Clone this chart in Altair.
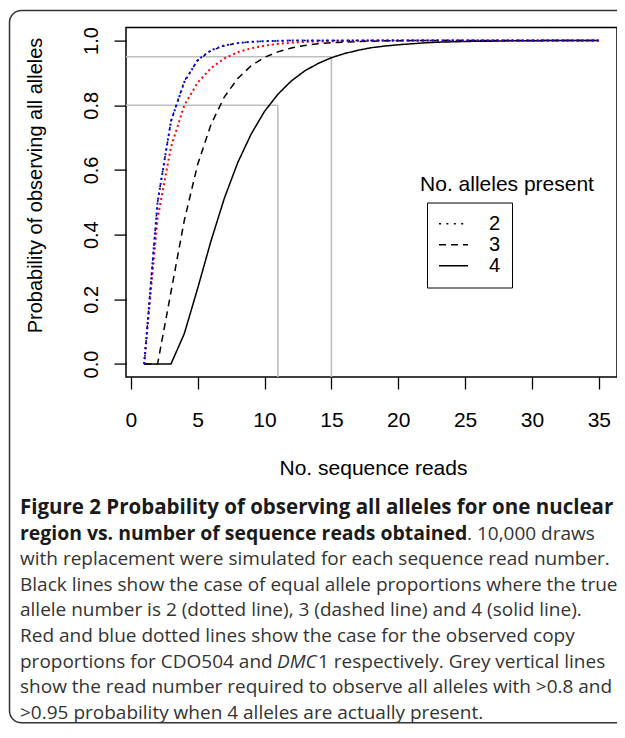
import altair as alt
import pandas as pd

# ---------------- data ----------------
reads = list(range(1, 36))
equal_2 = [0.0, 0.5, 0.75, 0.875, 0.938, 0.969, 0.984, 0.992, 0.996, 0.998, 0.999] + [1.0] * 24
equal_3 = [0.0, 0.0, 0.222, 0.444, 0.617, 0.741, 0.826, 0.883, 0.922, 0.948, 0.965, 0.977,
           0.985, 0.990, 0.993, 0.995, 0.997, 0.998, 0.999, 0.999] + [1.0] * 15
equal_4 = [0.0, 0.0, 0.0, 0.094, 0.234, 0.381, 0.513, 0.623, 0.711, 0.781, 0.834, 0.875,
           0.906, 0.929, 0.947, 0.960, 0.970, 0.978, 0.983, 0.987, 0.990, 0.993, 0.995,
           0.996, 0.997, 0.998, 0.998, 0.999, 0.999, 0.999, 1.0, 1.0, 1.0, 1.0, 1.0]
cdo504 = [0.0, 0.45, 0.67, 0.80, 0.87, 0.915, 0.945, 0.964, 0.976, 0.984, 0.990, 0.993,
          0.996, 0.997, 0.998, 0.999, 0.999] + [1.0] * 18
dmc1 = [0.0, 0.50, 0.75, 0.872, 0.94, 0.97, 0.985, 0.992, 0.996, 0.998, 0.999] + [1.0] * 24
allele_counts = [2, 3, 4]
threshold_reads = [11, 15]
threshold_probs = [0.8, 0.95]
x_ticks = [0, 5, 10, 15, 20, 25, 30, 35]
y_ticks = [0.0, 0.2, 0.4, 0.6, 0.8, 1.0]

caption_lines = [
    "with replacement were simulated for each sequence read number.",
    "Black lines show the case of equal allele proportions where the true",
    "allele number is 2 (dotted line), 3 (dashed line) and 4 (solid line).",
    "Red and blue dotted lines show the case for the observed copy",
]
caption_last = [
    "show the read number required to observe all alleles with >0.8 and",
    ">0.95 probability when 4 alleles are actually present.",
]

# ---------------- layout ----------------
SVG_W, SVG_H = 609, 716
LEFT, TOP = 118, 19.6
W, H = SVG_W - LEFT, 349.4
PY0 = 8 + TOP          # page y of plot top
PX0 = 8 + LEFT         # page x of plot left
AX = "Liberation Sans"
CAP = "Open Sans"
CAP_SIZE = 19
BASE0 = 514 - PY0
STEP = 25.6
CAPX = 20 - PX0

black_df = pd.DataFrame({
    "reads": reads * 3,
    "prob": equal_2 + equal_3 + equal_4,
    "alleles": [allele_counts[0]] * 35 + [allele_counts[1]] * 35 + [allele_counts[2]] * 35,
})
red_df = pd.DataFrame({"reads": reads, "prob": cdo504})
blue_df = pd.DataFrame({"reads": reads, "prob": dmc1})
thr_df = pd.DataFrame({"reads": threshold_reads, "prob": threshold_probs})
one = pd.DataFrame({"a": [0]})

xscale = alt.Scale(domain=[-0.36, 36.36], nice=False, zero=False)
yscale = alt.Scale(domain=[-0.04, 1.04], nice=False, zero=False)

xaxis = alt.Axis(
    values=x_ticks, title="No. sequence reads", domain=False, grid=False,
    tickSize=12, tickColor="black", tickWidth=1.3,
    labelFont=AX, labelFontSize=21, labelColor="black", labelBaseline="alphabetic",
    labelPadding=37, labelFlush=False,
    titleFont=AX, titleFontSize=21, titleFontWeight="normal", titleColor="black",
    titleBaseline="alphabetic", titleY=97, titleX=373 - PX0, titleAnchor="middle",
)
yaxis = alt.Axis(
    values=y_ticks, format=".1f", title="Probability of observing all alleles",
    domain=False, grid=False, tickSize=12, tickColor="black", tickWidth=1.3,
    labelFont=AX, labelFontSize=20, labelColor="black", labelAngle=270,
    labelAlign="center", labelBaseline="alphabetic", labelPadding=17, labelFlush=False,
    titleFont=AX, titleFontSize=20, titleFontWeight="normal", titleColor="black",
    titleAngle=270, titleAlign="center", titleBaseline="alphabetic",
    titleX=-85, titleY=185 - PY0,
)

grey_v = alt.Chart(thr_df).mark_rule(color="#bebebe", strokeWidth=1.6).encode(
    x=alt.X("reads:Q", scale=xscale, axis=xaxis),
    y=alt.Y("prob:Q", scale=yscale, axis=yaxis),
    y2=alt.value(H),
)
grey_h = alt.Chart(thr_df).mark_rule(color="#bebebe", strokeWidth=1.6).encode(
    x=alt.X("reads:Q"),
    x2=alt.value(0),
    y=alt.Y("prob:Q"),
)

black_lines = alt.Chart(black_df).mark_line(color="black", strokeWidth=1.5).encode(
    x="reads:Q",
    y="prob:Q",
    strokeDash=alt.StrokeDash(
        "alleles:N",
        scale=alt.Scale(domain=allele_counts, range=[[2, 5.4], [7, 5], [1, 0]]),
        legend=alt.Legend(
            title=None, orient="none", legendX=427 - PX0, legendY=202.5 - PY0,
            strokeColor="black", padding=11, symbolType="stroke", symbolSize=841,
            symbolStrokeWidth=1.5, symbolStrokeColor="black", clipHeight=20.35,
            rowPadding=0, labelFont=AX, labelFontSize=20, labelColor="black",
            labelOffset=20,
        ),
    ),
)
red_line = alt.Chart(red_df).mark_line(color="red", strokeWidth=2, strokeDash=[2, 3]).encode(
    x="reads:Q", y="prob:Q")
blue_line = alt.Chart(blue_df).mark_line(color="#0000ff", strokeWidth=2, strokeDash=[2, 3]).encode(
    x="reads:Q", y="prob:Q")

legend_title = alt.Chart(one).mark_text(
    text="No. alleles present", font=AX, fontSize=21, color="black",
    align="center", baseline="alphabetic").encode(x=alt.value(507 - PX0), y=alt.value(191 - PY0))

frame = alt.Chart(one).mark_rect(
    fill="transparent", stroke="#333333", strokeWidth=1.5, cornerRadius=12).encode(
    x=alt.value(9.5 - PX0), x2=alt.value(640 - PX0),
    y=alt.value(10.5 - PY0), y2=alt.value(8 + SVG_H - 1.2 - PY0))


def cap(text, line, x=CAPX, weight="normal", style="normal", color="#333333", size=CAP_SIZE):
    return alt.Chart(one).mark_text(
        text=text, font=CAP, fontSize=size, fontWeight=weight, fontStyle=style,
        color=color, align="left", baseline="alphabetic").encode(
        x=alt.value(x), y=alt.value(BASE0 + STEP * line))


texts = [
    cap("Figure 2 Probability of observing all alleles for one nuclear", 0,
        weight="bold", color="#1a1a1a", size=20.5),
    cap("region vs. number of sequence reads obtained", 1,
        weight="bold", color="#1a1a1a", size=19.4),
    cap(". 10,000 draws", 1, x=467 - PX0),
]
for i, t in enumerate(caption_lines):
    texts.append(cap(t, 2 + i))
texts += [
    cap("proportions for CDO504 and", 6),
    cap("DMC", 6, x=277 - PX0, style="italic"),
    cap("1 respectively. Grey vertical lines", 6, x=318 - PX0),
]
for i, t in enumerate(caption_last):
    texts.append(cap(t, 7 + i))

chart = alt.layer(grey_v, grey_h, black_lines, red_line, blue_line, legend_title, frame, *texts).properties(
    width=W, height=H,
    padding={"left": LEFT, "top": TOP, "right": 0, "bottom": SVG_H - TOP - H},
    autosize=alt.AutoSizeParams(type="none"),
).configure_view(stroke="black", strokeWidth=1.5)

chart.save("out.html", embed_options={"renderer": "svg", "actions": False})
